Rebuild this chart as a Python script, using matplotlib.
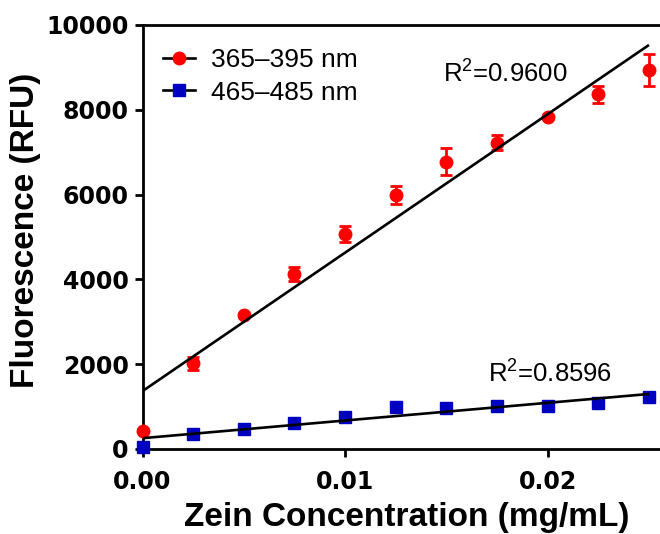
import numpy as np
import matplotlib
matplotlib.use("Agg")
import matplotlib.pyplot as plt
from matplotlib.lines import Line2D

plt.rcParams['mathtext.fontset'] = 'custom'
plt.rcParams['mathtext.rm'] = 'Liberation Sans'

# ---- data ----
conc = [0.0, 0.0025, 0.005, 0.0075, 0.01, 0.0125, 0.015, 0.0175, 0.02, 0.0225, 0.025]
uv_label = "365–395 nm"
uv_vals = [432, 2020, 3160, 4127, 5063, 5991, 6777, 7225, 7822, 8365, 8939]
uv_err = [40, 160, 40, 175, 190, 215, 315, 175, 50, 195, 375]
blue_label = "465–485 nm"
blue_vals = [55, 346, 464, 620, 762, 983, 973, 1010, 1020, 1075, 1233]
blue_err = [20, 30, 30, 30, 30, 30, 30, 30, 30, 30, 30]
r2_labels = ["0.9600", "0.8596"]
xticks = [0.0, 0.01, 0.02]
yticks = [0, 2000, 4000, 6000, 8000, 10000]

RED = '#FF0000'
BLUE = '#0000C0'

fig = plt.figure(figsize=(6.6, 5.34), dpi=100)
ax = fig.add_axes([142.5/660, 85/534, (660-142.5)/660, 424/534])

x = np.array(conc)
for vals, err, col, mk, ms in [(uv_vals, uv_err, RED, 'o', 9), (blue_vals, blue_err, BLUE, 's', 8)]:
    ax.errorbar(x, vals, yerr=err, fmt=mk, color=col, ms=ms, mec=col,
                elinewidth=2, capsize=4.5, capthick=2, clip_on=False, zorder=3)
    k, b = np.polyfit(x, np.array(vals, dtype=float), 1)
    xs = np.array([0.0, 0.025])
    ax.plot(xs, k*xs + b, color='black', lw=1.9, zorder=4, solid_capstyle='butt')

ax.set_xlim(0, (660-142.5)/20260)
ax.set_ylim(0, 10000)
ax.set_xticks(xticks)
ax.set_xticklabels([f"{t:.2f}" for t in xticks])
ax.set_yticks(yticks)
ax.set_yticklabels([str(t) for t in yticks])

for s in ['left', 'bottom', 'top']:
    ax.spines[s].set_linewidth(2)
ax.spines['right'].set_visible(False)
ax.tick_params(direction='out', length=6, width=2, colors='black')
ax.tick_params(axis='y', pad=4)
ax.tick_params(axis='x', pad=9)
for lab in ax.get_xticklabels() + ax.get_yticklabels():
    lab.set_fontfamily('DejaVu Sans')
    lab.set_fontweight('bold')
    lab.set_fontsize(17)

ax.set_xlabel("Zein Concentration (mg/mL)", fontfamily='Liberation Sans',
              fontweight='bold', fontsize=24)
ax.set_ylabel("Fluorescence (RFU)", fontfamily='Liberation Sans',
              fontweight='bold', fontsize=24)
ax.xaxis.set_label_coords(0.511, -0.125)
ax.yaxis.set_label_coords(-0.196, 0.516)

ax.text(0.01483, 8656, r"R$^\mathregular{2}$=" + r2_labels[0], fontfamily='Liberation Sans',
        fontsize=18.5, ha='left', va='baseline')
ax.text(0.01707, 1587, r"R$^\mathregular{2}$=" + r2_labels[1], fontfamily='Liberation Sans',
        fontsize=18.5, ha='left', va='baseline')

handles = [Line2D([], [], color='black', lw=1.9, marker='o', ms=9, mfc=RED, mec=RED),
           Line2D([], [], color='black', lw=1.9, marker='s', ms=8, mfc=BLUE, mec=BLUE)]
leg = ax.legend(handles, [uv_label, blue_label], loc='upper left',
                bbox_to_anchor=(0.0396, 0.946), frameon=False, borderpad=0,
                borderaxespad=0, handlelength=1.2, handletextpad=0.62,
                labelspacing=0.33, prop={'family': 'Liberation Sans', 'size': 19})

fig.savefig("out.png", dpi=100)
